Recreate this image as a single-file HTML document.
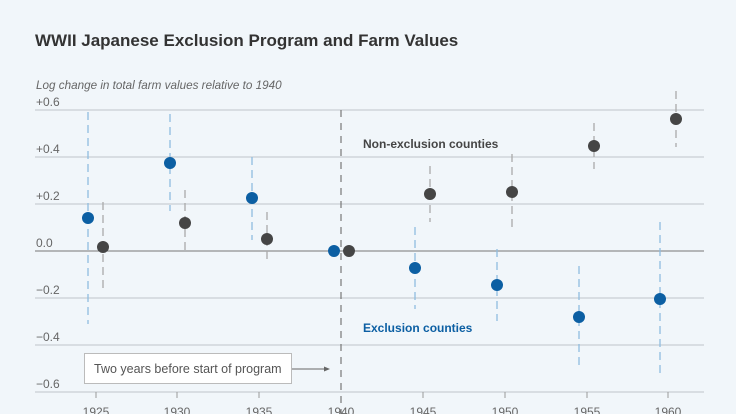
<!DOCTYPE html>
<html><head><style>
html,body{margin:0;padding:0;background:#f1f6fa;}
svg{display:block;font-family:"Liberation Sans",sans-serif;}
</style></head><body>
<svg width="736" height="414" viewBox="0 0 736 414">
<rect width="736" height="414" fill="#f1f6fa"/>
<text x="35" y="46" font-size="17" font-weight="bold" fill="#333">WWII Japanese Exclusion Program and Farm Values</text>
<text x="36" y="89" font-size="11.7" font-style="italic" fill="#666">Log change in total farm values relative to 1940</text>
<g stroke="#c9ced3" stroke-width="1.2">
<line x1="35" x2="704" y1="110" y2="110"/><line x1="35" x2="704" y1="157" y2="157"/>
<line x1="35" x2="704" y1="204" y2="204"/><line x1="35" x2="704" y1="298" y2="298"/>
<line x1="35" x2="704" y1="345" y2="345"/><line x1="35" x2="704" y1="392" y2="392"/>
</g>
<line x1="35" x2="704" y1="251" y2="251" stroke="#777" stroke-width="1"/>
<g font-size="12" fill="#666">
<text x="36" y="106">+0.6</text><text x="36" y="153">+0.4</text><text x="36" y="200">+0.2</text>
<text x="36" y="247">0.0</text><text x="36" y="294">−0.2</text><text x="36" y="341">−0.4</text><text x="36" y="388">−0.6</text>
</g>
<g stroke="#999" stroke-width="1">
<line x1="96" x2="96" y1="392" y2="398"/><line x1="177" x2="177" y1="392" y2="398"/><line x1="259" x2="259" y1="392" y2="398"/>
<line x1="423" x2="423" y1="392" y2="398"/><line x1="505" x2="505" y1="392" y2="398"/><line x1="587" x2="587" y1="392" y2="398"/><line x1="668" x2="668" y1="392" y2="398"/>
</g>
<g font-size="12" fill="#666" text-anchor="middle">
<text x="96" y="416">1925</text><text x="177" y="416">1930</text><text x="259" y="416">1935</text><text x="341" y="416">1940</text>
<text x="423" y="416">1945</text><text x="505" y="416">1950</text><text x="587" y="416">1955</text><text x="668" y="416">1960</text>
</g>
<line x1="341" x2="341" y1="110" y2="414" stroke="#777" stroke-width="1.2" stroke-dasharray="7,6"/>
<g stroke="#8fbde0" stroke-width="1.3" stroke-dasharray="8,5">
<line x1="88" x2="88" y1="112" y2="324"/><line x1="170" x2="170" y1="114" y2="211"/>
<line x1="252" x2="252" y1="157" y2="240"/><line x1="415" x2="415" y1="227" y2="309"/>
<line x1="497" x2="497" y1="249" y2="321"/><line x1="579" x2="579" y1="266" y2="366"/>
<line x1="660" x2="660" y1="222" y2="376"/>
</g>
<g stroke="#aaa" stroke-width="1.3" stroke-dasharray="8,5">
<line x1="103" x2="103" y1="202" y2="293"/><line x1="185" x2="185" y1="190" y2="255"/>
<line x1="267" x2="267" y1="212" y2="264"/><line x1="430" x2="430" y1="166" y2="222"/>
<line x1="512" x2="512" y1="154" y2="230"/><line x1="594" x2="594" y1="123" y2="169"/>
<line x1="676" x2="676" y1="91" y2="147"/>
</g>
<g fill="#0c5fa3">
<circle cx="88" cy="218" r="6"/><circle cx="170" cy="163" r="6"/><circle cx="252" cy="198" r="6"/><circle cx="334" cy="251" r="6"/>
<circle cx="415" cy="268" r="6"/><circle cx="497" cy="285" r="6"/><circle cx="579" cy="317" r="6"/><circle cx="660" cy="299" r="6"/>
</g>
<g fill="#454545">
<circle cx="103" cy="247" r="6"/><circle cx="185" cy="223" r="6"/><circle cx="267" cy="239" r="6"/><circle cx="349" cy="251" r="6"/>
<circle cx="430" cy="194" r="6"/><circle cx="512" cy="192" r="6"/><circle cx="594" cy="146" r="6"/><circle cx="676" cy="119" r="6"/>
</g>
<text x="363" y="148" font-size="12" font-weight="bold" fill="#454545">Non-exclusion counties</text>
<text x="363" y="332" font-size="12" font-weight="bold" fill="#0c5fa3">Exclusion counties</text>
<rect x="84.5" y="353.5" width="207" height="30" fill="#fff" stroke="#bbb"/>
<text x="94" y="373" font-size="12.5" fill="#555">Two years before start of program</text>
<line x1="292" x2="326" y1="369" y2="369" stroke="#666" stroke-width="1"/>
<polygon points="330,369 324,366.5 324,371.5" fill="#666"/>
</svg>
</body></html>
